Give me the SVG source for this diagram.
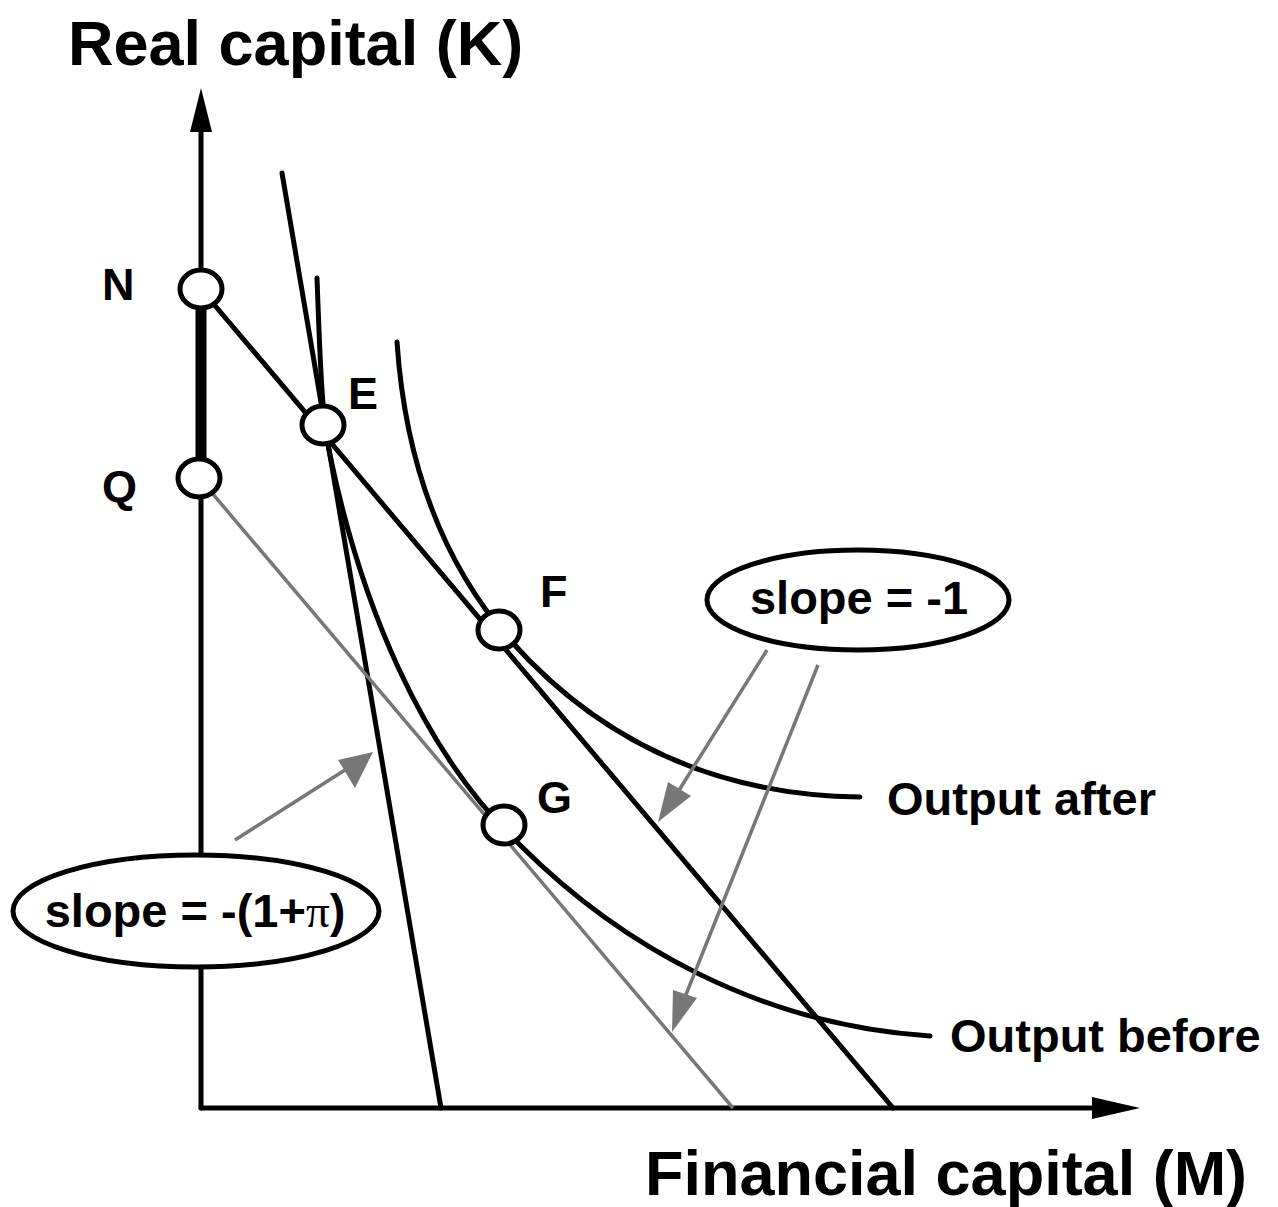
<svg xmlns="http://www.w3.org/2000/svg" width="1278" height="1207" viewBox="0 0 1278 1207">
<style>
.ln{fill:none;stroke:#000;stroke-width:5;stroke-linecap:round}
.gr{fill:none;stroke:#777;stroke-width:3.5}
.pt{fill:#fff;stroke:#000;stroke-width:5}
.t{font-family:"Liberation Sans",Arial,sans-serif;font-weight:bold;fill:#000}
</style>
<rect width="1278" height="1207" fill="#fff"/>
<g id="axes">
<line class="ln" x1="201" y1="1108" x2="201" y2="120"/>
<polygon points="201,88 190,132 212,132" fill="#000"/>
<line class="ln" x1="201" y1="1108" x2="1105" y2="1108"/>
<polygon points="1140,1108 1092,1097 1092,1119" fill="#000"/>
<line x1="201" y1="300" x2="201" y2="470" stroke="#000" stroke-width="11"/>
</g>
<g id="connectors">
<line class="ln" x1="282" y1="173" x2="441" y2="1108"/>
<path class="ln" d="M317,278 C320,360 322,420 330,455 C360,600 420,750 520,845 C620,945 760,1025 930,1036"/>
<path class="ln" d="M397,342 C405,460 440,560 510,640 C590,730 700,795 860,797"/>
<line class="ln" x1="201" y1="289" x2="893" y2="1108"/>
<line class="gr" x1="201" y1="480" x2="733" y2="1108"/>
<line class="gr" x1="235" y1="840" x2="345" y2="770"/>
<polygon points="373,752 338,760 355,788" fill="#777"/>
<line class="gr" x1="767" y1="650" x2="676" y2="795"/>
<polygon points="658,822 668,782 691,796" fill="#777"/>
<line class="gr" x1="818" y1="665" x2="683" y2="1002"/>
<polygon points="672,1032 673,990 697,998" fill="#777"/>
</g>
<g id="N"><ellipse class="pt" cx="201" cy="289" rx="21" ry="19"/><text class="t" x="102" y="300" font-size="45">N</text></g>
<g id="Q"><ellipse class="pt" cx="199" cy="478" rx="21" ry="19"/><text class="t" x="102" y="502" font-size="45">Q</text></g>
<g id="E"><ellipse class="pt" cx="323" cy="425" rx="21" ry="19"/><text class="t" x="348" y="409" font-size="45">E</text></g>
<g id="F"><ellipse class="pt" cx="499" cy="630" rx="21" ry="19"/><text class="t" x="540" y="607" font-size="45">F</text></g>
<g id="G"><ellipse class="pt" cx="504" cy="825" rx="21" ry="19"/><text class="t" x="537" y="813" font-size="45">G</text></g>
<g id="slope1"><ellipse class="pt" cx="858" cy="600" rx="151" ry="50"/><text class="t" x="859" y="614" font-size="47" text-anchor="middle">slope = -1</text></g>
<g id="slope2"><ellipse class="pt" cx="196" cy="911" rx="183" ry="56"/><text class="t" x="195" y="927" font-size="47" text-anchor="middle">slope = -(1+<tspan font-family="Liberation Serif,serif" font-weight="normal">π</tspan>)</text></g>
<g id="labels">
<text class="t" x="68" y="65" font-size="63">Real capital (K)</text>
<text class="t" x="645" y="1195" font-size="63">Financial capital (M)</text>
<text class="t" x="887" y="815" font-size="47">Output after</text>
<text class="t" x="950" y="1052" font-size="47">Output before</text>
</g>
</svg>
